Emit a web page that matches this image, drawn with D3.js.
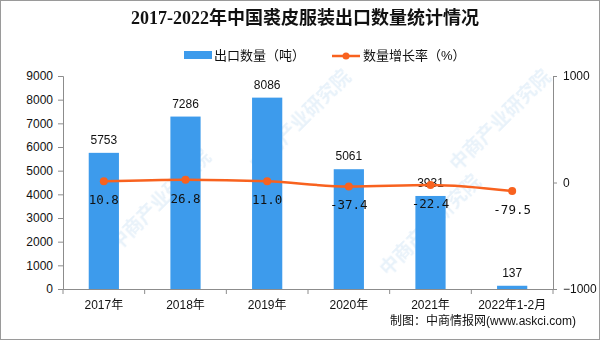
<!DOCTYPE html>
<html>
<head>
<meta charset="utf-8">
<script src="https://cdn.jsdelivr.net/npm/d3@7/dist/d3.min.js"></script>
<style>
  html, body { margin: 0; padding: 0; background: #fff; }
  svg { display: block; }
</style>
</head>
<body>
<svg id="chart" width="600" height="340"></svg>
<script>
// Fur garment exports, 2017 – Jan/Feb 2022
const categories = ["2017年", "2018年", "2019年", "2020年", "2021年", "2022年1-2月"];
const exportTons = [5753, 7286, 8086, 5061, 3931, 137];
const growthRate = [10.8, 26.8, 11.0, -37.4, -22.4, -79.5];
const leftTicks = [0, 1000, 2000, 3000, 4000, 5000, 6000, 7000, 8000, 9000];
const rightTicks = [-1000, 0, 1000];

const W = 600, H = 340;
const plot = { left: 63, right: 553, top: 76, bottom: 289 };
const barColor = "#3d9bec";
const lineColor = "#f8621f";
const axisColor = "#8c8c8c";
const sans = "'Liberation Sans', Arial, 'Noto Sans CJK SC', sans-serif";
const cjk = "'Liberation Sans', 'Noto Sans CJK SC', sans-serif";

const svg = d3.select("#chart");

// outer frame
svg.append("rect").attr("x", 0.5).attr("y", 0.5).attr("width", W - 1).attr("height", H - 1)
  .attr("fill", "#fff").attr("stroke", "#9a9a9a");

// faint diagonal watermark
const wm = svg.append("g").attr("fill", "#c6def2").attr("opacity", 0.4)
  .attr("font-family", cjk).attr("font-size", 19).attr("font-weight", "bold");
[[160, 200], [300, 120], [430, 225], [500, 120]]
  .forEach(([cx, cy]) => {
    wm.append("text").attr("transform", `translate(${cx},${cy}) rotate(-45)`)
      .attr("text-anchor", "middle").attr("dy", "0.35em").text("中商产业研究院");
  });

const x = d3.scaleBand().domain(categories).range([plot.left, plot.right])
  .paddingInner(0.63).paddingOuter(0.315);
const yL = d3.scaleLinear().domain([0, 9000]).range([plot.bottom, plot.top]);
const yR = d3.scaleLinear().domain([-1000, 1000]).range([plot.bottom, plot.top]);

// bars
svg.append("g").selectAll("rect").data(exportTons).join("rect")
  .attr("x", (d, i) => x(categories[i]))
  .attr("width", x.bandwidth())
  .attr("y", d => yL(d))
  .attr("height", d => yL(0) - yL(d))
  .attr("fill", barColor);

// left axis
const gL = svg.append("g").attr("transform", `translate(${plot.left},0)`)
  .call(d3.axisLeft(yL).tickValues(leftTicks).tickSize(5).tickPadding(5).tickFormat(d3.format("d")));
gL.select(".domain").attr("stroke", axisColor);
gL.selectAll(".tick line").attr("stroke", axisColor);
gL.selectAll("text").attr("font-family", sans).attr("font-size", 12).attr("fill", "#111");

// right axis
const gR = svg.append("g").attr("transform", `translate(${plot.right},0)`)
  .call(d3.axisRight(yR).tickValues(rightTicks).tickSize(4).tickPadding(6).tickFormat(d3.format("d")));
gR.select(".domain").attr("stroke", axisColor);
gR.selectAll(".tick line").attr("stroke", axisColor);
gR.selectAll("text").attr("font-family", sans).attr("font-size", 12).attr("fill", "#111");

// bottom axis: labels centred under bars, ticks on category boundaries
const gB = svg.append("g").attr("transform", `translate(0,${plot.bottom})`)
  .call(d3.axisBottom(x).tickSize(0).tickPadding(11));
gB.select(".domain").attr("stroke", axisColor);
gB.selectAll("text").attr("font-family", cjk).attr("font-size", 12).attr("fill", "#111");
const bounds = categories.map(c => x(c) - x.step() * x.paddingInner() / 2)
  .concat([plot.right]);
gB.selectAll(".bnd").data(bounds).join("line").attr("class", "bnd")
  .attr("x1", d => d).attr("x2", d => d).attr("y1", 0).attr("y2", 5)
  .attr("stroke", axisColor);

// bar value labels
svg.append("g").selectAll("text").data(exportTons).join("text")
  .attr("x", (d, i) => x(categories[i]) + x.bandwidth() / 2)
  .attr("y", d => yL(d) - 9)
  .attr("text-anchor", "middle")
  .attr("font-family", sans).attr("font-size", 12).attr("fill", "#111")
  .text(d => d);

// growth-rate line
const cx = (d, i) => x(categories[i]) + x.bandwidth() / 2;
svg.append("path").datum(growthRate)
  .attr("d", d3.line().x(cx).y(d => yR(d)).curve(d3.curveMonotoneX))
  .attr("fill", "none").attr("stroke", lineColor).attr("stroke-width", 2.5);
svg.append("g").selectAll("circle").data(growthRate).join("circle")
  .attr("cx", cx).attr("cy", d => yR(d)).attr("r", 4)
  .attr("fill", lineColor);
svg.append("g").selectAll("text").data(growthRate).join("text")
  .attr("x", cx).attr("y", d => yR(d) + 23)
  .attr("text-anchor", "middle")
  .attr("font-family", "'DejaVu Sans Mono', monospace").attr("font-size", 12.5).attr("fill", "#111")
  .text(d => d.toFixed(1));

// title
svg.append("text").attr("x", 305).attr("y", 24).attr("text-anchor", "middle")
  .attr("font-family", "'Liberation Serif', 'Noto Sans CJK SC', serif")
  .attr("font-size", 18).attr("font-weight", "bold").attr("fill", "#111")
  .text("2017-2022年中国裘皮服装出口数量统计情况");

// legend
const lg = svg.append("g").attr("font-family", cjk).attr("font-size", 13).attr("fill", "#111");
lg.append("rect").attr("x", 184).attr("y", 51).attr("width", 28).attr("height", 8).attr("fill", barColor);
lg.append("text").attr("x", 214).attr("y", 60).text("出口数量（吨）");
lg.append("line").attr("x1", 332).attr("x2", 360).attr("y1", 56).attr("y2", 56)
  .attr("stroke", lineColor).attr("stroke-width", 2.5);
lg.append("circle").attr("cx", 346).attr("cy", 56).attr("r", 3.5).attr("fill", lineColor);
lg.append("text").attr("x", 363).attr("y", 60).text("数量增长率（%）");

// source note
svg.append("text").attr("x", 576).attr("y", 325).attr("text-anchor", "end")
  .attr("font-family", cjk).attr("font-size", 12).attr("fill", "#111")
  .text("制图：中商情报网(www.askci.com)");
</script>
</body>
</html>
